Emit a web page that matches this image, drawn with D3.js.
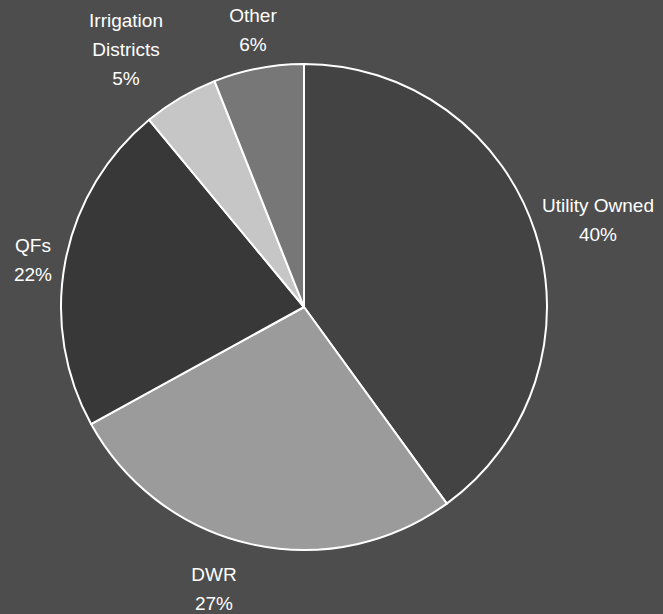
<!DOCTYPE html>
<html>
<head>
<meta charset="utf-8">
<script src="https://cdn.jsdelivr.net/npm/d3@7"></script>
<style>
  body { margin: 0; background: #4d4d4d; }
  svg { display: block; }
  text { font-family: "Liberation Sans", Arial, sans-serif; fill: #fff; }
</style>
</head>
<body>
<svg width="663" height="614"></svg>
<script>
const categories = ["Utility Owned", "DWR", "QFs", "Irrigation Districts", "Other"];
const shares = [40, 27, 22, 5, 6];
const sliceColors = ["#434343", "#9b9b9b", "#383838", "#c6c6c6", "#777777"];

// label lines (multi-line) and where each label block sits
const labelLines = [["Utility Owned", "40%"], ["DWR", "27%"], ["QFs", "22%"], ["Irrigation", "Districts", "5%"], ["Other", "6%"]];
const labelPos = [[598, 212], [214, 581], [33, 252], [126, 27], [253, 22]];

const svg = d3.select("svg");
const width = 663, height = 614;
const cx = 304, cy = 307, radius = 243;

svg.append("rect").attr("width", width).attr("height", height).attr("fill", "#4d4d4d");

const pie = d3.pie().sort(null).value(d => d);
const arc = d3.arc().innerRadius(0).outerRadius(radius);

const data = pie(shares);

const g = svg.append("g").attr("transform", `translate(${cx},${cy})`);

g.selectAll("path")
    .data(data)
    .enter().append("path")
    .attr("d", arc)
    .attr("fill", (d, i) => sliceColors[i])
    .attr("stroke", "#fff")
    .attr("stroke-width", 2)
    .attr("stroke-linejoin", "round");

const labels = svg.append("g").attr("class", "labels");

categories.forEach((c, i) => {
    const t = labels.append("text")
        .attr("text-anchor", "middle")
        .attr("font-size", 19)
        .attr("x", labelPos[i][0])
        .attr("y", labelPos[i][1]);
    labelLines[i].forEach((line, k) => {
        t.append("tspan")
            .attr("x", labelPos[i][0])
            .attr("dy", k === 0 ? 0 : 29)
            .text(line);
    });
});
</script>
</body>
</html>
